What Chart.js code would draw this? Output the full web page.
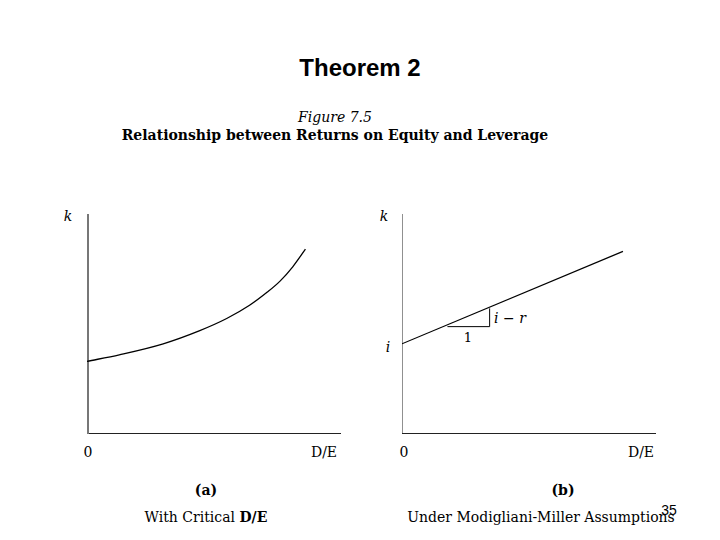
<!DOCTYPE html>
<html><head><meta charset="utf-8">
<script src="https://cdn.jsdelivr.net/npm/chart.js@4"></script>
<style>
body{margin:0;width:720px;height:540px;background:#fff;position:relative;overflow:hidden;font-family:"DejaVu Serif",serif}
.t{position:absolute;white-space:nowrap;transform:translate(-50%,-50%);color:#000}
.box{position:absolute}
</style></head><body>
<div class="t" style="left:360px;top:68px;font:bold 24px 'Liberation Sans',Arial,sans-serif">Theorem 2</div>
<div class="t" style="left:335px;top:117px;font-style:italic;font-size:14px">Figure 7.5</div>
<div class="t" style="left:335px;top:135px;font-weight:bold;font-size:14px">Relationship between Returns on Equity and Leverage</div>
<div class="t" style="left:68px;top:216px;font-style:italic;font-size:14px">k</div>
<div class="t" style="left:88px;top:452px;font-size:14px">0</div>
<div class="t" style="left:324px;top:452px;font-size:14px">D/E</div>
<div class="t" style="left:206px;top:490px;font-weight:bold;font-size:14px">(a)</div>
<div class="t" style="left:206px;top:517px;font-size:14px">With Critical <b>D/E</b></div>
<div class="t" style="left:384px;top:216px;font-style:italic;font-size:14px">k</div>
<div class="t" style="left:388px;top:347px;font-style:italic;font-size:14px">i</div>
<div class="t" style="left:404px;top:452px;font-size:14px">0</div>
<div class="t" style="left:641px;top:452px;font-size:14px">D/E</div>
<div class="t" style="left:510px;top:318px;font-size:14px"><i>i</i> − <i>r</i></div>
<div class="t" style="left:468px;top:337px;font-size:13px">1</div>
<div class="t" style="left:563px;top:490px;font-weight:bold;font-size:14px">(b)</div>
<div class="t" style="left:541px;top:517px;font-size:14px">Under Modigliani-Miller Assumptions</div>
<div class="t" style="left:669px;top:510px;font:14px 'Liberation Sans',Arial,sans-serif">35</div>
<div class="box" style="left:87px;top:214px;width:254px;height:220px"><canvas id="ca"></canvas></div>
<div class="box" style="left:402px;top:214px;width:254px;height:220px"><canvas id="cb"></canvas></div>
<script>
const curveX = [0, 1.27, 3, 4.44, 5.5, 6.4, 7.1, 7.6, 8.1, 8.6];
const curveY = [3.3, 3.6, 4.1, 4.7, 5.25, 5.85, 6.45, 6.95, 7.6, 8.4];
const mmX = [0, 8.7];
const mmY = [4.1, 8.3];
const triX = [1.79, 3.45, 3.45];
const triY = [4.88, 4.88, 5.71];

const pts = (xs, ys) => xs.map((x, i) => ({ x, y: ys[i] }));

function axis(width, color) {
    return {
        type: 'linear', min: 0, max: 10,
        grid: { display: false, drawTicks: false },
        ticks: { display: false },
        border: { display: true, color, width }
    };
}

function makeChart(id, datasets, yWidth, yColor) {
    new Chart(document.getElementById(id), {
        type: 'line',
        data: { datasets },
        options: {
            responsive: true, maintainAspectRatio: false, animation: false,
            layout: { padding: 0 },
            plugins: { legend: { display: false }, tooltip: { enabled: false } },
            scales: { x: axis(1.5, '#222'), y: axis(yWidth, yColor) }
        }
    });
}

makeChart('ca', [{
    data: pts(curveX, curveY), borderColor: '#000', borderWidth: 1.3,
    pointRadius: 0, cubicInterpolationMode: 'monotone'
}], 3, '#777');

makeChart('cb', [{
    data: pts(mmX, mmY), borderColor: '#000', borderWidth: 1.2, pointRadius: 0
}, {
    data: pts(triX, triY), borderColor: '#000', borderWidth: 1, pointRadius: 0
}], 1.5, '#222');
</script>
</body></html>
